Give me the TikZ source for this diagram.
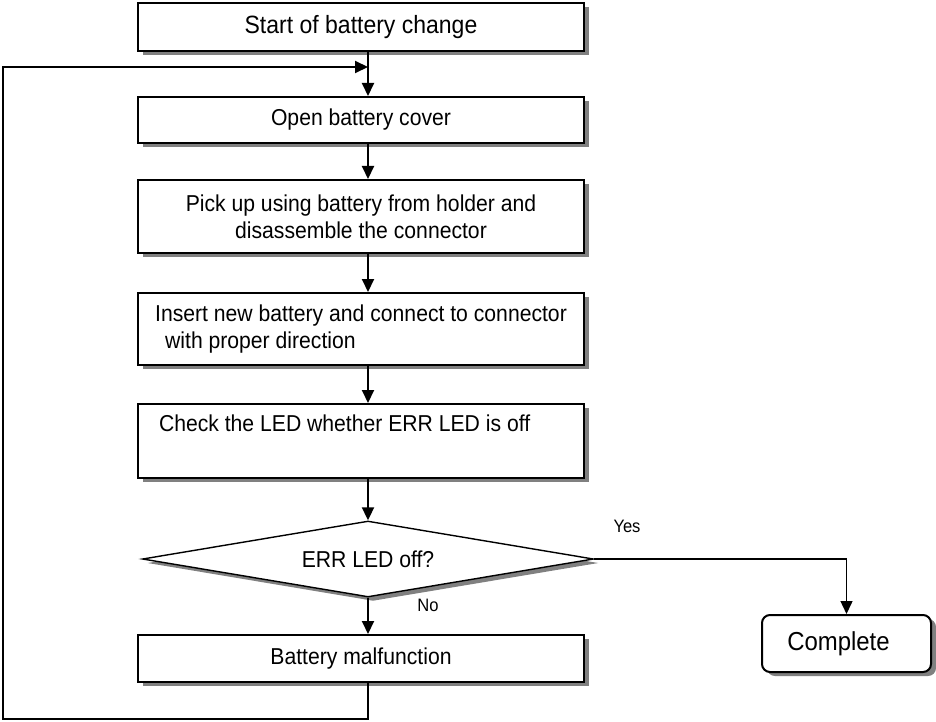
\documentclass[tikz,border=0pt]{standalone}
\usepackage{fontspec}
\setmainfont[FakeStretch=0.92]{Liberation Sans}
\usetikzlibrary{positioning,arrows.meta,shapes.geometric,shadows}

\begin{document}
\begin{tikzpicture}[x=1pt, y=-1pt, font=\fontsize{23}{27}\selectfont,
  shad/.style={drop shadow={shadow xshift=5pt, shadow yshift=-4pt, fill=black!50, opacity=1}},
  stepbox/.style={draw, line width=2pt, fill=white, shad, minimum width=446pt, inner sep=0pt, align=center},
  leftbox/.style={stepbox, text width=404pt, inner xsep=21pt, align=flush left},
  decide/.style={draw, line width=1.4pt, fill=white, shad, diamond, aspect=5.9, minimum width=451pt, minimum height=76pt, inner sep=0pt},
  finish/.style={draw, line width=2pt, fill=white, shad, rounded corners=8pt, minimum width=169pt, minimum height=57pt},
  flow/.style={line width=2pt, -{Triangle[width=12pt,length=13pt]}},
  lab/.style={font=\fontsize{18}{20}\selectfont}]
\useasboundingbox (0,0) rectangle (936,722);
% steps
\node[stepbox, minimum height=48pt, font=\fontsize{25}{27}\selectfont] (start) at (361,27) {Start of battery change};
\node[stepbox, minimum height=46pt] (open) at (361,120) {Open battery cover};
\node[stepbox, minimum height=73pt] (pick) at (361,216.5) {Pick up using battery from holder and\\disassemble the connector};
\node[stepbox, minimum height=72pt, align=left] (insert) at (361,329) {Insert new battery and connect to connector\\\hspace*{10pt}with proper direction};
\node[leftbox, minimum height=74pt] (check) at (361,441) {Check the LED whether ERR LED is off\\\strut};
% decision
\node[decide] (err) at (368,559) {ERR LED off?};
\node[stepbox, minimum height=47pt] (bad) at (361,658.5) {Battery malfunction};
\node[finish, font=\fontsize{26}{28}\selectfont] (done) at (846.5,643.5) {Complete\hspace*{16pt}};
% flow down
\draw[flow] ([xshift=7pt]start.south) -- ([xshift=7pt]open.north);
\draw[flow] ([xshift=7pt]open.south) -- ([xshift=7pt]pick.north);
\draw[flow] ([xshift=7pt]pick.south) -- ([xshift=7pt]insert.north);
\draw[flow] ([xshift=7pt]insert.south) -- ([xshift=7pt]check.north);
\draw[flow] ([xshift=7pt]check.south) -- (err.north);
\draw[flow] (err.south) -- ([xshift=7pt]bad.north) node[lab, pos=0.2, right=45pt]{No};
\draw[flow, line width=1.4pt] (err.east) -| (done.north) node[lab, pos=0.065, above=22pt]{Yes};
% retry loop
\coordinate (join) at (368,67);
\coordinate (back) at (3,719);
\draw[flow] ([xshift=7pt]bad.south) |- (back) |- (join);
\end{tikzpicture}
\end{document}
